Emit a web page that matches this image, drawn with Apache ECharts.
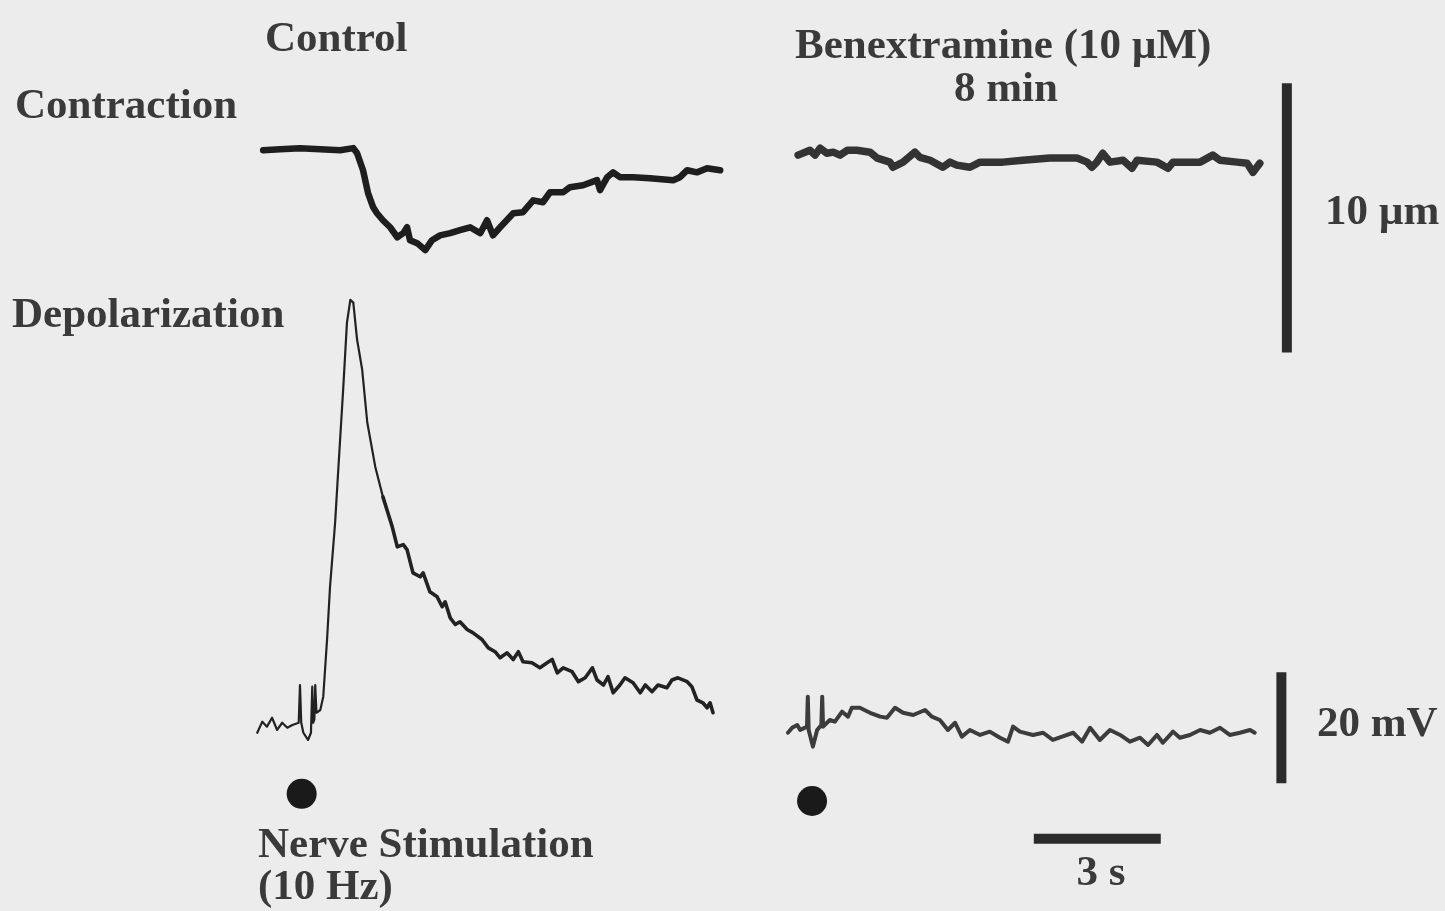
<!DOCTYPE html>
<html>
<head>
<meta charset="utf-8">
<title>Nerve stimulation: contraction and depolarization</title>
<script src="https://cdn.jsdelivr.net/npm/echarts@6/dist/echarts.min.js"></script>
<style>
  html, body { margin: 0; padding: 0; background: #ececec; }
  #chart { width: 1445px; height: 911px; }
</style>
</head>
<body>
<div id="chart"></div>
<script>
// Recordings: [time (s), value]. Contraction in µm, depolarization in mV.
// Control run starts at t = 0; the benextramine run is placed to its right on the same time scale.
const controlContraction = [
  [0.00, -0.04], [0.40, 0.00], [0.87, 0.04], [1.35, 0.00], [1.82, -0.04], [2.13, 0.04],
  [2.22, -0.15], [2.36, -0.78], [2.48, -1.64], [2.60, -2.16], [2.69, -2.38], [2.83, -2.64],
  [3.00, -2.90], [3.17, -3.27], [3.31, -3.12], [3.40, -2.90], [3.47, -3.38], [3.64, -3.49],
  [3.83, -3.75], [3.99, -3.38], [4.18, -3.20], [4.42, -3.12], [4.65, -3.01], [4.89, -2.90],
  [5.13, -3.12], [5.29, -2.64], [5.43, -3.20], [5.60, -2.90], [5.91, -2.38], [6.14, -2.34],
  [6.38, -1.90], [6.61, -1.97], [6.78, -1.60], [7.09, -1.60], [7.25, -1.41], [7.56, -1.34],
  [7.89, -1.15], [7.96, -1.52], [8.13, -1.04], [8.27, -0.86], [8.43, -1.04], [8.74, -1.04],
  [9.14, -1.08], [9.69, -1.15], [9.85, -1.04], [10.02, -0.78], [10.25, -0.86], [10.49, -0.71],
  [10.80, -0.78]
];

const benexContraction = [
  [12.64, -0.22], [12.92, -0.04], [13.04, -0.22], [13.16, 0.04], [13.32, -0.15], [13.47, -0.11],
  [13.63, -0.22], [13.80, -0.04], [14.03, -0.04], [14.34, -0.11], [14.51, -0.33], [14.81, -0.48],
  [14.88, -0.67], [15.12, -0.48], [15.40, -0.11], [15.52, -0.30], [15.76, -0.41], [16.06, -0.67],
  [16.23, -0.48], [16.39, -0.59], [16.70, -0.67], [16.94, -0.48], [17.48, -0.48], [17.95, -0.41],
  [18.59, -0.33], [19.23, -0.33], [19.47, -0.48], [19.58, -0.67], [19.70, -0.48], [19.84, -0.15],
  [20.01, -0.48], [20.32, -0.41], [20.53, -0.71], [20.65, -0.41], [21.12, -0.48], [21.38, -0.71],
  [21.50, -0.48], [22.14, -0.48], [22.44, -0.22], [22.61, -0.41], [23.01, -0.48], [23.25, -0.52],
  [23.39, -0.86], [23.55, -0.52]
];

const controlDepolarization = [
  [-0.14, -0.9], [-0.02, 1.1], [0.09, 0.2], [0.21, 1.8], [0.33, -0.4], [0.45, 0.9], [0.57, 0.0],
  [0.69, 0.5], [0.84, 0.9], [0.87, 7.7], [0.90, 0.9], [0.95, -0.9], [1.06, -2.2], [1.13, -0.9],
  [1.16, 7.4], [1.18, 0.9], [1.21, 1.5], [1.23, 7.7], [1.26, 2.7], [1.35, 3.2], [1.42, 5.6], [1.51, 15.9],
  [1.58, 25.4], [1.70, 36.9], [1.77, 45.9], [1.89, 60.9], [1.98, 73.0], [2.06, 77.1], [2.13, 76.6],
  [2.22, 69.9], [2.34, 64.5], [2.46, 55.0], [2.65, 47.0], [2.83, 41.6], [3.05, 36.2], [3.17, 32.6],
  [3.31, 33.0], [3.40, 32.1], [3.54, 27.9], [3.71, 27.2], [3.78, 27.9], [3.94, 24.5], [4.11, 23.6],
  [4.23, 21.8], [4.30, 22.7], [4.42, 19.8], [4.54, 18.6], [4.65, 19.1], [4.82, 17.7], [4.96, 17.1],
  [5.17, 15.9], [5.32, 14.4], [5.48, 13.7], [5.60, 12.6], [5.76, 13.5], [5.91, 12.3], [6.03, 13.7],
  [6.14, 11.9], [6.35, 11.7], [6.54, 10.8], [6.71, 11.7], [6.83, 12.3], [6.95, 9.9], [7.09, 10.8],
  [7.30, 10.1], [7.45, 8.3], [7.61, 9.0], [7.78, 10.8], [7.89, 8.6], [8.04, 7.7], [8.15, 9.2],
  [8.27, 6.3], [8.43, 7.7], [8.55, 9.0], [8.74, 8.1], [8.91, 6.3], [9.03, 7.7], [9.19, 6.5],
  [9.33, 7.7], [9.54, 7.2], [9.66, 8.6], [9.80, 9.0], [10.02, 8.3], [10.13, 7.4], [10.25, 5.0],
  [10.39, 4.5], [10.49, 3.6], [10.56, 4.5], [10.63, 2.7]
];

const benexDepolarization = [
  [12.40, -0.9], [12.50, 0.0], [12.62, 0.5], [12.69, -0.4], [12.85, 0.2], [12.87, 5.6], [12.89, -0.4],
  [12.99, -3.4], [13.09, -0.4], [13.19, 0.5], [13.21, 5.6], [13.23, 0.2], [13.39, 1.4], [13.51, 1.1],
  [13.68, 2.9], [13.82, 2.0],
  [13.91, 3.6], [14.10, 3.6], [14.34, 2.7], [14.58, 2.0], [14.74, 1.8], [14.93, 3.6], [15.12, 2.7],
  [15.36, 2.3], [15.64, 3.2], [15.80, 2.0], [15.99, 1.4], [16.18, -0.4], [16.35, 0.9], [16.51, -1.6],
  [16.70, -0.4], [16.94, -1.3], [17.17, -0.7], [17.41, -1.8], [17.60, -2.5], [17.72, 0.2], [17.88, -0.7],
  [18.19, -1.3], [18.43, -0.9], [18.66, -2.2], [18.88, -1.6], [19.14, -0.9], [19.35, -2.5], [19.54, 0.0],
  [19.77, -2.2], [20.01, -0.4], [20.25, -1.3], [20.48, -2.5], [20.72, -1.8], [20.91, -3.1], [21.12, -1.3],
  [21.26, -2.7], [21.50, -0.7], [21.66, -1.8], [21.90, -1.3], [22.14, -0.4], [22.37, -0.9], [22.61, 0.0],
  [22.84, -1.3], [23.08, -0.9], [23.32, -0.4], [23.43, -0.9]
];

// Stimulus markers (onset of 10 Hz nerve stimulation) on the depolarization panel
const stimulusMarks = [[0.91, -11.9], [12.97, -13.2]];

// Calibration bars
const barLength = [[24.19, 2.45], [24.19, -7.55]];      // 10 µm
const barVoltage = [[24.06, 10], [24.06, -10]];         // 20 mV
const barTime = [[18.21, -20], [21.21, -20]];           // 3 s

const serif = '"Liberation Serif", "DejaVu Serif", serif';
const ink = '#3a3a3a';

// The fast upstroke of the control potential is drawn thinner than the slow tail
const riseEnd = 3.0;
const controlRise = controlDepolarization.filter(p => p[0] <= riseEnd);
const controlTail = controlDepolarization.filter(p => p[0] >= riseEnd - 0.2);

const chart = echarts.init(document.getElementById('chart'), null, { renderer: 'canvas' });

function hiddenAxis(extra) {
  return Object.assign({
    type: 'value', show: false,
    axisLine: { show: false }, axisTick: { show: false },
    axisLabel: { show: false }, splitLine: { show: false }
  }, extra);
}

function trace(data, axis, color, width) {
  return {
    type: 'line', data: data, xAxisIndex: axis, yAxisIndex: axis,
    showSymbol: false, symbol: 'none', smooth: false,
    lineStyle: { color: color, width: width, join: 'round', cap: 'round' },
    silent: true, z: 3
  };
}

function bar(data, axis) {
  return {
    type: 'line', data: data, xAxisIndex: axis, yAxisIndex: axis, symbol: 'none',
    lineStyle: { color: '#2b2b2b', width: 10, cap: 'butt' }, silent: true
  };
}

function text(str, x, y, align) {
  return {
    type: 'text', x: x, y: y, silent: true,
    style: {
      text: str, font: 'bold 43px ' + serif, fill: ink,
      align: align || 'left', verticalAlign: 'middle'
    }
  };
}

chart.setOption({
  backgroundColor: '#ececec',
  animation: false,
  grid: [
    { left: 242, width: 1058, top: 55, height: 323 },
    { left: 242, width: 1058, top: 256, height: 610.5 }
  ],
  xAxis: [
    hiddenAxis({ gridIndex: 0, min: -0.5, max: 24.5 }),
    hiddenAxis({ gridIndex: 1, min: -0.5, max: 24.5 })
  ],
  yAxis: [
    hiddenAxis({ gridIndex: 0, min: -8.5, max: 3.5 }),
    hiddenAxis({ gridIndex: 1, min: -25, max: 85 })
  ],
  series: [
    trace(controlContraction, 0, '#1e1e1e', 6.5),
    trace(benexContraction, 0, '#333333', 7.5),
    trace(controlRise, 1, '#222222', 2.2),
    trace(controlTail, 1, '#222222', 3.6),
    trace(benexDepolarization, 1, '#3c3c3c', 4),
    bar(barLength, 0),
    bar(barVoltage, 1),
    bar(barTime, 1),
    {
      type: 'scatter', data: stimulusMarks, xAxisIndex: 1, yAxisIndex: 1,
      symbol: 'circle', symbolSize: 30, itemStyle: { color: '#1a1a1a', opacity: 1 }, silent: true
    }
  ],
  graphic: [
    text('Control', 265, 40),
    text('Contraction', 15, 107),
    text('Depolarization', 12, 316),
    text('Benextramine (10 µM)', 795, 47),
    text('8 min', 1006, 90, 'center'),
    text('10 µm', 1325, 213),
    text('20 mV', 1317, 725),
    text('Nerve Stimulation', 258, 846),
    text('(10 Hz)', 258, 888),
    text('3 s', 1101, 874, 'center')
  ]
});
</script>
</body>
</html>
